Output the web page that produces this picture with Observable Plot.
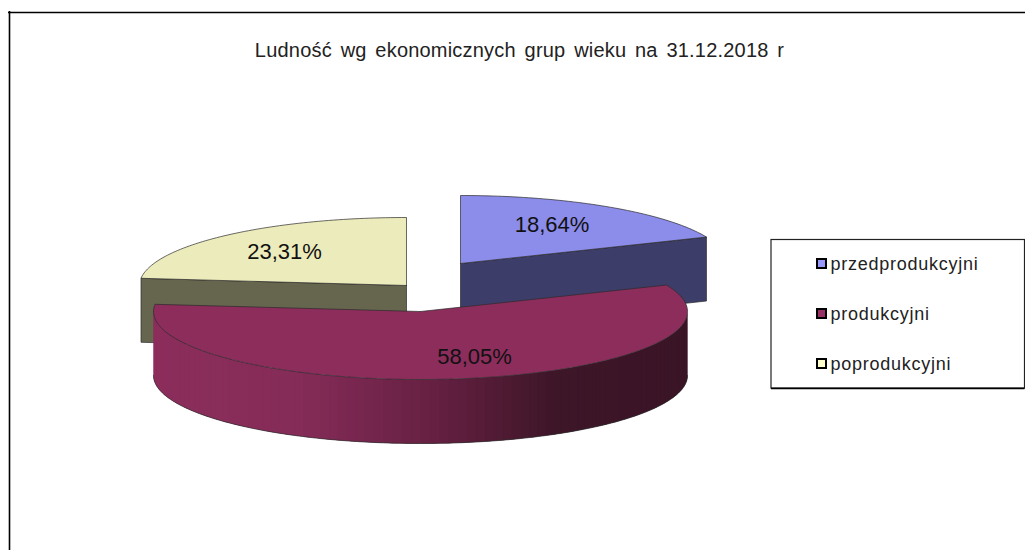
<!DOCTYPE html>
<html>
<head>
<meta charset="utf-8">
<script src="https://cdn.jsdelivr.net/npm/d3@7"></script>
<script src="https://cdn.jsdelivr.net/npm/@observablehq/plot@0.6"></script>
<style>html,body{margin:0;padding:0;background:#fff}svg{display:block}</style>
</head>
<body>
<div id="chart"></div>
<script>
const titleText = "Ludność wg ekonomicznych grup wieku na 31.12.2018 r";
const categories = ["przedprodukcyjni", "produkcyjni", "poprodukcyjni"];
const shares = [18.64, 58.05, 23.31];
const topColors = ["#8c8ceb", "#8c2d5c", "#ecebbb"];
const sideColors = ["#3d3d69", "#8c2d5c", "#66664f"];
const swatchColors = ["#9999ff", "#993366", "#ffffcc"];

// layout of the tilted pie (pixels; the x and y scales are 1:1 with the page)
const W = 1025, H = 550;
const rx = 267, ry = 68, depth = 64;
const apexes = [[460, 263], [420, 311], [406, 285]];
const labelPos = [[551.5, 224], [474, 356], [284, 251]];
const legendBox = {x1: 771, x2: 1024.5, y1: 239.5, y2: 388};
const legendRows = [264, 314, 364];

const total = d3.sum(shares);
let acc = 0;
const spans = shares.map(v => { const a0 = acc / total * 2 * Math.PI; acc += v; return [a0, acc / total * 2 * Math.PI]; });
const rim = (apex, t, dy = 0) => [apex[0] + rx * Math.sin(t), apex[1] - ry * Math.cos(t) + dy];

const polys = [];
let pid = 0;
function poly(points, fill, stroke) {
  const id = pid++;
  points.forEach(p => polys.push({id, x: p[0], y: p[1], fill, stroke}));
}
const outline = "#2b2b2b";
function arc(apex, a0, a1, dy = 0) {
  const n = Math.max(2, Math.ceil((a1 - a0) / 0.02));
  return d3.range(n + 1).map(i => rim(apex, a0 + (a1 - a0) * i / n, dy));
}
// back slices: blue (0) and yellow (2)
{
  const [a0, a1] = spans[0], A = apexes[0];
  const p = rim(A, a1);
  poly([A, p, [p[0], p[1] + depth], [A[0], A[1] + depth], A], sideColors[0], outline);
  poly([A, ...arc(A, a0, a1), A], topColors[0], outline);
}
{
  const [a0, a1] = spans[2], A = apexes[2];
  const p = rim(A, a0);
  poly([A, p, [p[0], p[1] + depth], [A[0], A[1] + depth], A], sideColors[2], outline);
  poly([A, ...arc(A, a0, a1), A], topColors[2], outline);
}
// maroon slice: banded side wall, then top
{
  const [a0, a1] = spans[1], A = apexes[1];
  const shade = d3.scaleLinear()
    .domain([153, 300, 433, 555, 687])
    .range(["#8c2d5c", "#852c58", "#662042", "#3d1628", "#3a1526"])
    .interpolate(d3.interpolateRgb);
  const N = 90;
  for (let i = 0; i < N; i++) {
    const t0 = Math.PI / 2 + Math.PI * i / N;
    const t1 = Math.PI / 2 + Math.PI * (i + 1) / N;
    const tx = Math.min(t1 + Math.PI / N, 1.5 * Math.PI);
    const a = arc(A, t0, tx), b = arc(A, t0, tx, depth).reverse();
    const mid = rim(A, (t0 + t1) / 2)[0];
    poly([...a, ...b], shade(mid), "none");
  }
  poly(arc(A, Math.PI / 2, 1.5 * Math.PI, depth), "none", outline);
  poly([A, ...arc(A, a0, a1), A], topColors[1], outline);
}

const legend = categories.map((c, i) => ({c, y: legendRows[i], fill: swatchColors[i]}));
const slices = categories.map((c, i) => ({
  label: shares[i].toFixed(2).replace(".", ",") + "%",
  x: labelPos[i][0], y: labelPos[i][1]
}));

const chart = Plot.plot({
  width: W, height: H,
  margin: 0,
  x: {domain: [0, W], range: [0, W], axis: null},
  y: {domain: [0, H], range: [0, H], axis: null},
  style: {background: "#fff", fontFamily: "'Liberation Sans', Arial, sans-serif"},
  marks: [
    Plot.ruleX([9], {y1: 11, y2: H, stroke: "#000", strokeWidth: 1.6}),
    Plot.ruleY([12], {x1: 8, x2: W, stroke: "#000", strokeWidth: 1.6}),
    Plot.text([titleText], {x: 519, y: 50, text: d => d, fontSize: 20, fill: "#222"}),
    Plot.line(polys, {
      x: "x", y: "y", z: "id", fill: "fill", stroke: "stroke", strokeWidth: 0.7, curve: "linear"
    }),
    Plot.text(slices, {x: "x", y: "y", text: "label", fontSize: 22, fill: "#111"}),
    Plot.rect([legendBox], {x1: "x1", x2: "x2", y1: "y1", y2: "y2", fill: "#fff", stroke: "#222", strokeWidth: 1.2}),
    Plot.ruleY([388], {x1: 771, x2: 1024.5, stroke: "#000", strokeWidth: 1.5}),
    Plot.rect(legend, {x1: 817, x2: 826, y1: d => d.y - 5, y2: d => d.y + 4, fill: "fill", stroke: "#000", strokeWidth: 2}),
    Plot.text(legend, {x: 830, y: "y", text: "c", textAnchor: "start", fontSize: 18, fill: "#222"})
  ]
});
// Spacing the original's hinted text has but Plot.text has no option for
d3.select(chart).selectAll("text").each(function () {
  const s = this.textContent;
  if (s === titleText) { this.style.wordSpacing = "3px"; this.style.letterSpacing = "0.2px"; }
  if (categories.includes(s)) this.style.letterSpacing = "0.75px";
});
document.getElementById("chart").appendChild(chart);
</script>
</body>
</html>
